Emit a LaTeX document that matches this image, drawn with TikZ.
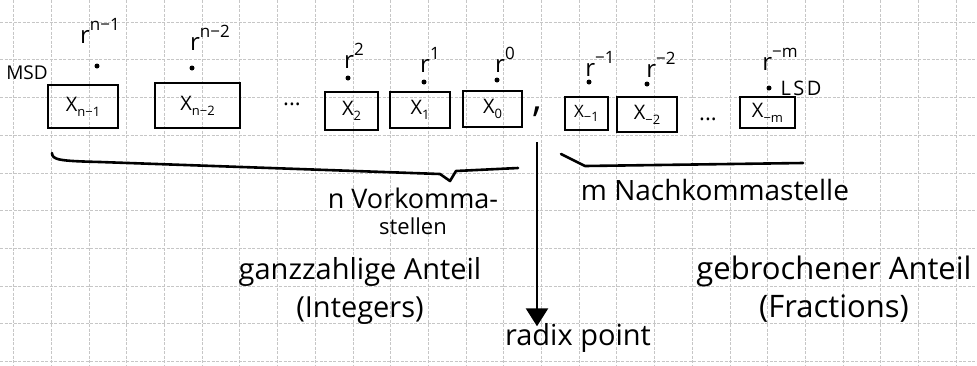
\documentclass[tikz,border=0pt]{standalone}
\usepackage{fontspec}
\setmainfont{Open Sans}
\usetikzlibrary{arrows.meta}
\newcommand\pwr[1]{r\raisebox{0.55em}{\fontsize{17}{18}\selectfont #1}}
\newcommand\dig[1]{X\raisebox{-0.25em}{\fontsize{13}{14}\selectfont #1}}
\tikzset{
  gridline/.style={gray!45, line width=0.6pt, dash pattern=on 3pt off 1.5pt},
  digitbox/.style={draw, line width=2.4pt, inner sep=0pt, font=\fontsize{20}{24}\selectfont},
  powlabel/.style={inner sep=0pt, font=\fontsize{24}{26}\selectfont},
  posdot/.style={circle, fill, inner sep=0pt, minimum size=5pt},
  hand/.style={inner sep=0pt, align=center},
  stroke/.style={line width=2.6pt, line cap=round, line join=round},
  radixarrow/.style={line width=2.6pt, -{Triangle[width=22pt,length=18pt]}}
}
\begin{document}
\begin{tikzpicture}[x=1pt,y=-1pt]
\useasboundingbox (0,0) rectangle (977,365);
\fill[white] (0,0) rectangle (977,365);
% grid paper
\foreach \k in {0,...,25} \draw[gridline] ({13.5+37.7*\k},0) -- ({13.5+37.7*\k},365);
\foreach \k in {0,...,9} \draw[gridline] (0,{22+37.7*\k}) -- (977,{22+37.7*\k});

% MSD / LSD
\node[hand, font=\fontsize{19}{22}\selectfont] (msd) at (27,73) {MSD};
\node[hand, font=\fontsize{20}{22}\selectfont\addfontfeatures{LetterSpace=12}] (lsd) at (801,88) {LSD};

% powers of r
\node[powlabel] (rn1) at (100,31) {\pwr{n−1}};
\node[powlabel] (rn2) at (210,38) {\pwr{n−2}};
\node[powlabel] (r2) at (354,56) {\pwr{2}};
\node[powlabel] (r1) at (430,60) {\pwr{1}};
\node[powlabel] (r0) at (505,60) {\pwr{0}};
\node[powlabel] (rm1) at (600,64) {\pwr{−1}};
\node[powlabel] (rm2) at (661,65) {\pwr{−2}};
\node[powlabel] (rmm) at (780,59) {\pwr{−m}};

% position dots
\node[posdot] (d1) at (97,66) {};
\node[posdot] (d2) at (192,68) {};
\node[posdot] (d3) at (348,78) {};
\node[posdot] (d4) at (424,82) {};
\node[posdot] (d5) at (497,80) {};
\node[posdot] (d6) at (589,82) {};
\node[posdot] (d7) at (647,84) {};
\node[posdot] (d8) at (769,88) {};

% digit boxes
\node[digitbox, minimum width=70pt, minimum height=43pt] (b1) at (83,106.5) {\dig{n−1}};
\node[digitbox, minimum width=85pt, minimum height=45pt] (b2) at (197.5,105.5) {\dig{n−2}};
\node[digitbox, minimum width=53pt, minimum height=38pt] (b3) at (351.5,111) {\dig{2}};
\node[digitbox, minimum width=60pt, minimum height=36pt] (b4) at (420,110) {\dig{1}};
\node[digitbox, minimum width=59pt, minimum height=36pt] (b5) at (492.5,109) {\dig{0}};
\node[digitbox, minimum width=43pt, minimum height=33pt, font=\fontsize{17}{20}\selectfont] (b6) at (586.5,113.5) {\dig{−1}};
\node[digitbox, minimum width=60pt, minimum height=35pt] (b7) at (647,114.5) {\dig{−2}};
\node[digitbox, minimum width=55pt, minimum height=31pt] (b8) at (767.5,112.5) {\dig{−m}};

% ellipses
\node[hand, font=\fontsize{22}{24}\selectfont] (e1) at (292,104) {...};
\node[hand, font=\fontsize{22}{24}\selectfont] (e2) at (708,119) {...};

% radix comma
\node[hand, font=\fontsize{40}{44}\selectfont] (comma) at (537,112) {,};

% underbraces
\draw[stroke] (52,153) .. controls (52,160) and (60,161) .. (100,162) -- (440,174) -- (450,181) -- (456,171) -- (518,168);
\draw[stroke] (561,154) -- (585,166) -- (803,163);

% labels
\node[hand, font=\fontsize{27}{26}\selectfont] (nvor) at (413,211) {n Vorkomma-\\{\fontsize{22}{24}\selectfont stellen}};
\node[hand, font=\fontsize{28}{30}\selectfont] (mnach) at (715,190) {m Nachkommastelle};
\node[hand, font=\fontsize{29}{38}\selectfont] (ganz) at (360,291) {ganzzahlige Anteil\\(Integers)};
\node[hand, font=\fontsize{31}{38}\selectfont] (gebr) at (834,289) {gebrochener Anteil\\(Fractions)};
\node[hand, font=\fontsize{29}{32}\selectfont] (radix) at (578,338) {radix point};

% radix point arrow
\draw[radixarrow] ([yshift=-30pt]comma.center) -- ([yshift=-3pt]comma.center |- radix.north);
\end{tikzpicture}
\end{document}
